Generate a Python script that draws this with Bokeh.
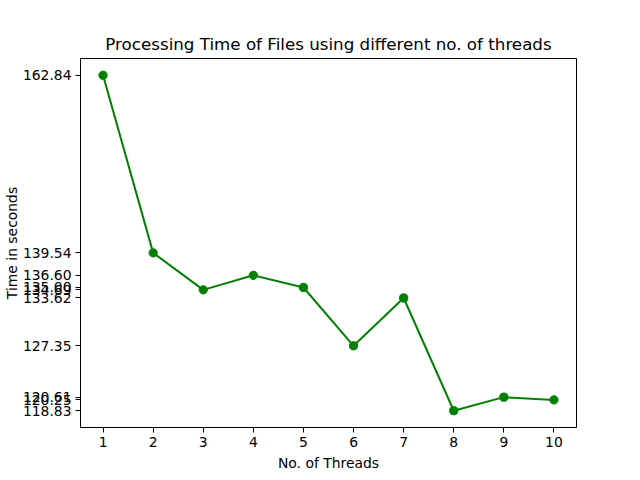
from bokeh.plotting import figure
from bokeh.embed import file_html
from bokeh.resources import INLINE
from bokeh.models import FixedTicker, Range1d, CustomJSTickFormatter

threads = [1, 2, 3, 4, 5, 6, 7, 8, 9, 10]
times = [162.84, 139.54, 134.69, 136.60, 135.00, 127.35, 133.62, 118.83, 120.61, 120.25]

ymin, ymax = min(times), max(times)
pad = (ymax - ymin) * 0.05
p = figure(frame_width=496, frame_height=369, output_backend="svg", toolbar_location=None,
           x_range=Range1d(0.55, 10.45), y_range=Range1d(ymin - pad, ymax + pad),
           min_border_left=80, min_border_right=48, min_border_top=58, min_border_bottom=37,
           title="Processing Time of Files using different no. of threads")
p.title.align = "center"
p.title.text_font = "DejaVu Sans"
p.title.text_font_size = "16.7px"
p.title.text_font_style = "normal"
p.title.text_color = "black"
p.title.offset = 0
p.title.standoff = 9

p.line(threads, times, line_color="green", line_width=2)
p.scatter(threads, times, size=8.3, fill_color="green", line_color="green")

p.xgrid.visible = False
p.ygrid.visible = False
p.outline_line_color = "black"
p.outline_line_width = 1

p.xaxis.ticker = FixedTicker(ticks=threads)
p.yaxis.ticker = FixedTicker(ticks=times)
p.yaxis.formatter = CustomJSTickFormatter(code="return tick.toFixed(2);")
p.xaxis.axis_label = "No. of Threads"
p.yaxis.axis_label = "Time in seconds"
for ax in (p.xaxis, p.yaxis):
    ax.axis_line_color = None
    ax.minor_tick_line_color = None
    ax.major_tick_in = 0
    ax.major_tick_out = 5
    ax.major_tick_line_color = "black"
    ax.major_label_text_font = "DejaVu Sans"
    ax.major_label_text_font_size = "13.9px"
    ax.major_label_text_color = "black"
    ax.axis_label_text_font = "DejaVu Sans"
    ax.axis_label_text_font_size = "13.9px"
    ax.axis_label_text_font_style = "normal"
    ax.axis_label_text_color = "black"
    ax.major_label_standoff = 4
p.xaxis.axis_label_standoff = 5
p.yaxis.axis_label_standoff = 0
p.yaxis.major_label_standoff = 4

open("out.html", "w").write(file_html(p, INLINE))
